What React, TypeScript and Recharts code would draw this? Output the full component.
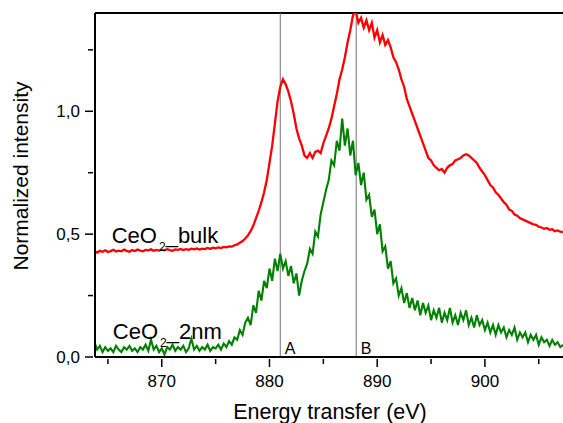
import React from "react";
import {
  LineChart,
  Line,
  XAxis,
  YAxis,
  ReferenceLine,
  ReferenceDot,
  Label,
} from "recharts";

// energy grid, eV (0.25 eV steps)
const energy = [
  863.75,
  864, 864.25, 864.5, 864.75, 865, 865.25, 865.5, 865.75,
  866, 866.25, 866.5, 866.75, 867, 867.25, 867.5, 867.75,
  868, 868.25, 868.5, 868.75, 869, 869.25, 869.5, 869.75,
  870, 870.25, 870.5, 870.75, 871, 871.25, 871.5, 871.75,
  872, 872.25, 872.5, 872.75, 873, 873.25, 873.5, 873.75,
  874, 874.25, 874.5, 874.75, 875, 875.25, 875.5, 875.75,
  876, 876.25, 876.5, 876.75, 877, 877.25, 877.5, 877.75,
  878, 878.25, 878.5, 878.75, 879, 879.25, 879.5, 879.75,
  880, 880.25, 880.5, 880.75, 881, 881.25, 881.5, 881.75,
  882, 882.25, 882.5, 882.75, 883, 883.25, 883.5, 883.75,
  884, 884.25, 884.5, 884.75, 885, 885.25, 885.5, 885.75,
  886, 886.25, 886.5, 886.75, 887, 887.25, 887.5, 887.75,
  888, 888.25, 888.5, 888.75, 889, 889.25, 889.5, 889.75,
  890, 890.25, 890.5, 890.75, 891, 891.25, 891.5, 891.75,
  892, 892.25, 892.5, 892.75, 893, 893.25, 893.5, 893.75,
  894, 894.25, 894.5, 894.75, 895, 895.25, 895.5, 895.75,
  896, 896.25, 896.5, 896.75, 897, 897.25, 897.5, 897.75,
  898, 898.25, 898.5, 898.75, 899, 899.25, 899.5, 899.75,
  900, 900.25, 900.5, 900.75, 901, 901.25, 901.5, 901.75,
  902, 902.25, 902.5, 902.75, 903, 903.25, 903.5, 903.75,
  904, 904.25, 904.5, 904.75, 905, 905.25, 905.5, 905.75,
  906, 906.25, 906.5, 906.75, 907, 907.25,
];

// CeO2 bulk
const bulk = [
  0.43,
  0.425, 0.432, 0.428, 0.434, 0.427, 0.431, 0.436, 0.429,
  0.433, 0.43, 0.437, 0.432, 0.428, 0.435, 0.431, 0.437,
  0.433, 0.43, 0.436, 0.434, 0.438, 0.432, 0.436, 0.433,
  0.437, 0.434, 0.439, 0.435, 0.432, 0.438, 0.436, 0.44,
  0.435, 0.439, 0.436, 0.441, 0.438, 0.442, 0.437, 0.441,
  0.439, 0.444, 0.44, 0.445, 0.442, 0.446, 0.443, 0.448,
  0.446, 0.45, 0.449, 0.455, 0.458, 0.465, 0.472, 0.482,
  0.495, 0.512, 0.535, 0.565, 0.595, 0.63, 0.67, 0.72,
  0.79, 0.86, 0.95, 1.04, 1.1, 1.13, 1.11, 1.08,
  1.04, 0.99, 0.93, 0.89, 0.86, 0.82, 0.81, 0.83,
  0.81, 0.835, 0.84, 0.83, 0.87, 0.9, 0.93, 0.97,
  1.02, 1.07, 1.13, 1.17, 1.22, 1.28, 1.33, 1.39,
  1.41, 1.36, 1.38, 1.34, 1.37, 1.33, 1.36, 1.3,
  1.33, 1.28, 1.31, 1.27, 1.29, 1.26, 1.22, 1.2,
  1.17, 1.13, 1.1, 1.05, 1.02, 0.99, 0.96, 0.93,
  0.9, 0.87, 0.84, 0.81, 0.8, 0.78, 0.77, 0.76,
  0.765, 0.75, 0.77, 0.78, 0.785, 0.8, 0.805, 0.81,
  0.82, 0.825, 0.82, 0.81, 0.8, 0.79, 0.77, 0.755,
  0.74, 0.72, 0.7, 0.69, 0.67, 0.66, 0.645, 0.63,
  0.62, 0.6, 0.595, 0.58, 0.575, 0.565, 0.56, 0.555,
  0.55, 0.545, 0.54, 0.538, 0.53, 0.527, 0.522, 0.525,
  0.518, 0.52, 0.512, 0.515, 0.51, 0.508,
];

// CeO2 2 nm
const nano = [
  0.06,
  0.03, 0.045, 0.02, 0.04, 0.025, 0.035, 0.02, 0.045,
  0.03, 0.02, 0.04, 0.03, 0.045, 0.025, 0.035, 0.02,
  0.04, 0.03, 0.05, 0.025, 0.07, 0.03, 0.045, 0.02,
  0.035, 0.01, 0.04, 0.03, 0.05, 0.025, 0.04, 0.03,
  0.045, 0.02, 0.035, 0.075, 0.03, 0.045, 0.025, 0.04,
  0.03, 0.05, 0.025, 0.04, 0.035, 0.05, 0.03, 0.055,
  0.04, 0.065, 0.05, 0.08, 0.07, 0.11, 0.09, 0.14,
  0.16, 0.13, 0.21, 0.18, 0.27, 0.23, 0.31, 0.28,
  0.36, 0.31, 0.4, 0.35, 0.42, 0.36, 0.39, 0.33,
  0.37, 0.3, 0.34, 0.25, 0.31, 0.35, 0.38, 0.44,
  0.42, 0.51, 0.49, 0.58, 0.63, 0.68, 0.72, 0.8,
  0.78, 0.88, 0.84, 0.97, 0.86, 0.93, 0.82, 0.88,
  0.74, 0.79, 0.7, 0.75, 0.64, 0.66, 0.57, 0.6,
  0.5, 0.54, 0.43, 0.45, 0.36, 0.39, 0.3, 0.32,
  0.25, 0.28, 0.22, 0.26, 0.2, 0.24, 0.19, 0.23,
  0.17, 0.22, 0.18, 0.21, 0.15, 0.19, 0.16, 0.2,
  0.14, 0.18, 0.15, 0.2, 0.14, 0.17, 0.13, 0.18,
  0.15, 0.19, 0.13, 0.16, 0.12, 0.17, 0.13, 0.15,
  0.11, 0.14, 0.1, 0.13, 0.09, 0.13, 0.1, 0.12,
  0.08, 0.11, 0.09, 0.12, 0.07, 0.1, 0.08, 0.1,
  0.06, 0.09, 0.07, 0.09, 0.05, 0.08, 0.06, 0.07,
  0.045, 0.07, 0.05, 0.06, 0.04, 0.05,
];

const xTicks = [865, 870, 875, 880, 885, 890, 895, 900, 905];
const yTicks = [0, 0.25, 0.5, 0.75, 1.0, 1.25];

// marker lines A and B
const markers = [
  { label: "A", energy: 881.0 },
  { label: "B", energy: 888.05 },
];

const data = energy.map((e, i) => ({ e, bulk: bulk[i], nano: nano[i] }));

const FONT = "'Liberation Sans', Arial, sans-serif";

const XTick = (props: any) => {
  const { x, y, payload } = props;
  const major = payload.value % 10 === 0;
  return (
    <g>
      <line x1={x} x2={x} y1={y} y2={y + (major ? 8 : 5)} stroke="#000" strokeWidth={1.5} />
      {major && (
        <text x={x} y={y + 28} textAnchor="middle" fontSize={17} fill="#000" fontFamily={FONT}>
          {payload.value}
        </text>
      )}
    </g>
  );
};

const YTick = (props: any) => {
  const { x, y, payload } = props;
  const major = Math.abs(payload.value * 2 - Math.round(payload.value * 2)) < 1e-6;
  return (
    <g>
      <line x1={x - (major ? 8 : 5)} x2={x} y1={y} y2={y} stroke="#000" strokeWidth={1.5} />
      {major && (
        <text x={x - 13} y={y + 6} textAnchor="end" fontSize={17} fill="#000" fontFamily={FONT}>
          {payload.value.toFixed(1).replace(".", ",")}
        </text>
      )}
    </g>
  );
};

const sampleLabel = (suffix: string) => (props: any) => {
  const { x, y } = props.viewBox;
  return (
    <text x={x} y={y} fontSize={22} fill="#000" fontFamily={FONT}>
      CeO
      <tspan fontSize={12} dx={2} dy={8}>2</tspan>
      <tspan dy={-8}>_{suffix}</tspan>
    </text>
  );
};

const markerLabel = (text: string) => (props: any) => {
  const { x, y } = props.viewBox;
  return (
    <text x={x} y={y} fontSize={16} fill="#000" fontFamily={FONT}>
      {text}
    </text>
  );
};

export default function App() {
  return (
    <div style={{ position: "absolute", left: 0, top: 0, fontFamily: FONT }}>
      <LineChart width={563} height={423} data={data} margin={{ top: 13, right: 0, bottom: 0, left: 0 }}>
        <XAxis
          dataKey="e"
          type="number"
          domain={[863.8, 907.25]}
          allowDataOverflow
          ticks={xTicks}
          interval={0}
          tickSize={0}
          tickLine={false}
          axisLine={{ stroke: "#000", strokeWidth: 2 }}
          height={66}
          tick={(p: any) => <XTick {...p} />}
        >
          <Label
            content={(p: any) => (
              <text
                x={p.viewBox.x + p.viewBox.width / 2 + 1}
                y={p.viewBox.y + 62}
                textAnchor="middle"
                fontSize={21.5}
                fill="#000"
                fontFamily={FONT}
              >
                Energy transfer (eV)
              </text>
            )}
          />
        </XAxis>
        <YAxis
          type="number"
          domain={[0, 1.4]}
          allowDataOverflow
          ticks={yTicks}
          interval={0}
          tickSize={0}
          tickLine={false}
          axisLine={{ stroke: "#000", strokeWidth: 2 }}
          width={95}
          tick={(p: any) => <YTick {...p} />}
        >
          <Label
            content={(p: any) => {
              const cx = p.viewBox.x + 28;
              const cy = p.viewBox.y + p.viewBox.height / 2 - 9;
              return (
                <text
                  x={cx}
                  y={cy}
                  transform={`rotate(-90, ${cx}, ${cy})`}
                  textAnchor="middle"
                  fontSize={21}
                  fill="#000"
                  fontFamily={FONT}
                >
                  Normalized intensity
                </text>
              );
            }}
          />
        </YAxis>
        <ReferenceLine y={1.4} stroke="#000" strokeWidth={2} />
        {markers.map((m) => (
          <ReferenceLine key={m.label} x={m.energy} stroke="#707070" strokeWidth={1} />
        ))}
        <Line
          type="linear"
          dataKey="bulk"
          stroke="#ff0000"
          strokeWidth={2.3}
          dot={false}
          isAnimationActive={false}
        />
        <Line
          type="linear"
          dataKey="nano"
          stroke="#008000"
          strokeWidth={2.1}
          dot={false}
          isAnimationActive={false}
        />
        <ReferenceDot x={865.35} y={0.465} r={0} fill="none" stroke="none" label={sampleLabel("bulk")} />
        <ReferenceDot x={865.45} y={0.073} r={0} fill="none" stroke="none" label={sampleLabel("2nm")} />
        {markers.map((m) => (
          <ReferenceDot
            key={m.label}
            x={m.energy + 0.42}
            y={0.012}
            r={0}
            fill="none"
            stroke="none"
            label={markerLabel(m.label)}
          />
        ))}
      </LineChart>
    </div>
  );
}
